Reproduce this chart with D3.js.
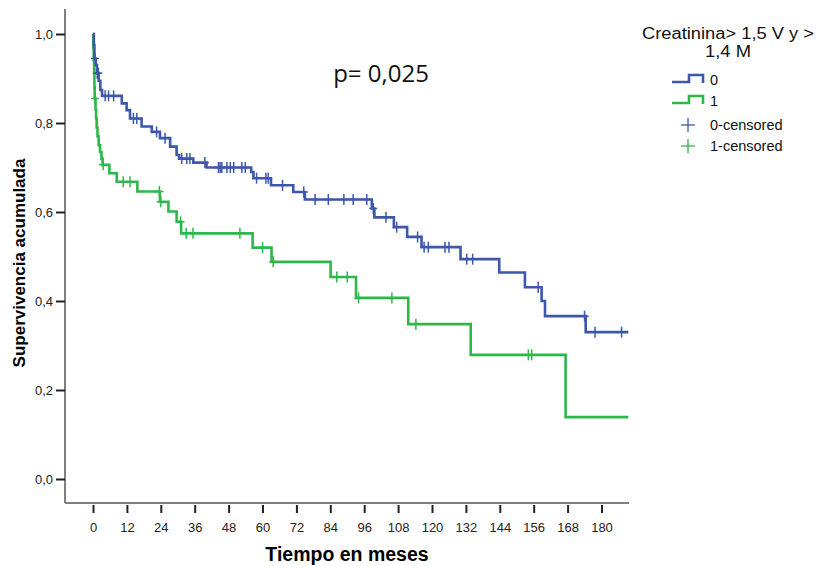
<!DOCTYPE html>
<html>
<head>
<meta charset="utf-8">
<script src="https://cdn.jsdelivr.net/npm/d3@7"></script>
<style>
  html, body { margin: 0; padding: 0; background: #fff; }
  svg { display: block; font-family: "Liberation Sans", Arial, sans-serif; }
</style>
</head>
<body>
<svg id="chart" width="819" height="566"></svg>
<script>
// Kaplan-Meier step data: event times (months) and survival after each event
const times0 = [0, 0.3, 0.5, 1.0, 1.4, 2.0, 2.6, 3.2, 10.2, 11.9, 13.1, 17.2, 20.8, 23.7, 27.3, 29.6, 30.5, 35.5, 40.2,
                56.0, 56.8, 63.0, 70.9, 75.0, 98.7, 99.6, 106.5, 111.2, 116.3, 130.1, 143.8, 152.9, 158.8, 160.0, 174.4];
const surv0  = [1.0, 0.975, 0.945, 0.93, 0.912, 0.895, 0.874, 0.861, 0.844, 0.829, 0.81, 0.792, 0.78, 0.766, 0.747, 0.728, 0.72, 0.711, 0.70,
                0.69, 0.676, 0.66, 0.645, 0.628, 0.608, 0.588, 0.566, 0.544, 0.521, 0.494, 0.464, 0.431, 0.40, 0.366, 0.33];
const censored0 = [0.7, 1.5, 1.9, 4.3, 5.5, 7.3, 14.3, 15.5, 22.5, 25.5, 31.4, 33.2, 34.3, 39.6, 44.4, 45.0, 45.6, 47.4, 48.6,
                   49.8, 52.7, 53.9, 57.9, 61.2, 62.0, 67.1, 74.6, 78.6, 83.3, 88.8, 92.1, 96.9, 99.2, 103.7, 107.5, 114.9,
                   117.2, 118.7, 124.6, 126.0, 132.3, 134.4, 157.6, 174.0, 177.7, 187.1];
const end0 = 189.5;

const times1 = [0, 0.1, 0.25, 0.4, 0.5, 0.6, 0.9, 1.1, 1.3, 1.6, 2.0, 2.5, 3.0, 3.4, 5.8, 8.4, 15.7, 23.7, 26.7, 29.6, 31.2,
                56.5, 63.2, 84.1, 93.1, 111.6, 133.7, 167.3];
const surv1  = [1.0, 0.97, 0.94, 0.91, 0.88, 0.855, 0.83, 0.81, 0.79, 0.77, 0.75, 0.735, 0.72, 0.706, 0.687, 0.668, 0.646, 0.623, 0.601, 0.578, 0.552,
                0.52, 0.488, 0.454, 0.407, 0.348, 0.279, 0.139];
const censored1 = [0.7, 3.6, 10.7, 13.1, 23.5, 24.0, 31.0, 33.0, 35.4, 52.0, 60.0, 63.8, 86.3, 90.0, 94.0, 105.8, 114.3, 154.1, 155.3];
const end1 = 189.5;

const xTicks = [0, 12, 24, 36, 48, 60, 72, 84, 96, 108, 120, 132, 144, 156, 168, 180];
const yTicks = [0, 0.2, 0.4, 0.6, 0.8, 1.0];
const yTickLabels = ["0,0", "0,2", "0,4", "0,6", "0,8", "1,0"];

const groupLabels = ["0", "1", "0-censored", "1-censored"];
const legendTitle = ["Creatinina> 1,5 V y >", "1,4 M"];
const pValueText = "p= 0,025";
const xTitle = "Tiempo en meses";
const yTitle = "Supervivencia acumulada";

const blue = "#3d57ab";
const green = "#2db84a";

const svg = d3.select("#chart");

const x = d3.scaleLinear().domain([0, 180]).range([93, 601.5]);
const y = d3.scaleLinear().domain([0, 1]).range([479, 34]);

// Frame lines (axes offset from the plotting area as in SPSS output)
const axisColor = "#555";
svg.append("line").attr("x1", 65).attr("x2", 65).attr("y1", 9).attr("y2", 503)
  .attr("stroke", axisColor).attr("stroke-width", 1.5);
svg.append("line").attr("x1", 65).attr("x2", 629).attr("y1", 503).attr("y2", 503)
  .attr("stroke", axisColor).attr("stroke-width", 1.5);

// X axis ticks and labels
const xAxis = d3.axisBottom(x).tickValues(xTicks).tickSize(8).tickPadding(10).tickFormat(d3.format("d"));
const gx = svg.append("g").attr("transform", "translate(0,505)").call(xAxis);
gx.select(".domain").remove();
gx.selectAll(".tick line").attr("stroke", "#222").attr("stroke-width", 2);
gx.selectAll(".tick text").attr("fill", "#222").style("font-size", "13px").style("font-family", "Liberation Sans, Arial, sans-serif");

// Y axis ticks and labels
const yAxis = d3.axisLeft(y).tickValues(yTicks).tickSize(9).tickPadding(3)
  .tickFormat((d, i) => yTickLabels[i]);
const gy = svg.append("g").attr("transform", "translate(65,0)").call(yAxis);
gy.select(".domain").remove();
gy.selectAll(".tick line").attr("stroke", "#222").attr("stroke-width", 2);
gy.selectAll(".tick text").attr("fill", "#222").style("font-size", "13px").style("font-family", "Liberation Sans, Arial, sans-serif");

// Axis titles
svg.append("text").attr("x", 347).attr("y", 561).attr("text-anchor", "middle")
  .style("font-weight", "bold").style("font-size", "19.5px").text(xTitle);
svg.append("text").attr("transform", "translate(25,263) rotate(-90)").attr("text-anchor", "middle")
  .style("font-weight", "bold").style("font-size", "17px").text(yTitle);

// p-value annotation
svg.append("text").attr("x", 381).attr("y", 82).attr("text-anchor", "middle")
  .style("font-size", "24px").style("font-family", "'Open Sans', 'Liberation Sans', sans-serif").attr("fill", "#111").text(pValueText);

// Step-function helpers
function survivalAt(times, surv, t) {
  let s = surv[0];
  for (let i = 0; i < times.length; i++) { if (times[i] <= t) s = surv[i]; }
  return s;
}
function stepPoints(times, surv, end) {
  const pts = times.map((t, i) => [t, surv[i]]);
  pts.push([end, surv[surv.length - 1]]);
  return pts;
}
const stepLine = d3.line().x(d => x(d[0])).y(d => y(d[1])).curve(d3.curveStepAfter);

function drawGroup(times, surv, censored, end, color) {
  svg.append("path").datum(stepPoints(times, surv, end))
    .attr("fill", "none").attr("stroke", color).attr("stroke-width", 2.6)
    .attr("stroke-linejoin", "miter").attr("d", stepLine);
  const g = svg.append("g").attr("stroke", color).attr("stroke-width", 1.5);
  censored.forEach(t => {
    const cx = x(t), cy = y(survivalAt(times, surv, t));
    g.append("line").attr("x1", cx).attr("x2", cx).attr("y1", cy - 5.5).attr("y2", cy + 5.5);
    g.append("line").attr("x1", cx - 4).attr("x2", cx + 4).attr("y1", cy).attr("y2", cy);
  });
}
drawGroup(times1, surv1, censored1, end1, green);
drawGroup(times0, surv0, censored0, end0, blue);

// Legend: two-line title, slightly widened to the legend box
const lg = svg.append("g");
const titleWidths = [172, 46];
lg.selectAll("text.title").data(legendTitle).join("text").attr("class", "title")
  .attr("x", (d, i) => 728 - titleWidths[i] / 2).attr("y", (d, i) => 39 + i * 18)
  .attr("textLength", (d, i) => titleWidths[i]).attr("lengthAdjust", "spacingAndGlyphs")
  .style("font-size", "16px").attr("fill", "#111").text(d => d);

const legendRows = [
  { label: groupLabels[0], color: blue, kind: "step", cy: 80 },
  { label: groupLabels[1], color: green, kind: "step", cy: 101 },
  { label: groupLabels[2], color: blue, kind: "plus", cy: 125 },
  { label: groupLabels[3], color: green, kind: "plus", cy: 146 }
];
legendRows.forEach(r => {
  if (r.kind === "step") {
    lg.append("path")
      .attr("d", `M672,${r.cy + 2} H689 V${r.cy - 5} H703 V${r.cy + 3}`)
      .attr("fill", "none").attr("stroke", r.color).attr("stroke-width", 2.6);
  } else {
    lg.append("line").attr("x1", 688).attr("x2", 688).attr("y1", r.cy - 7).attr("y2", r.cy + 7)
      .attr("stroke", r.color).attr("stroke-width", 1.3);
    lg.append("line").attr("x1", 681).attr("x2", 695).attr("y1", r.cy).attr("y2", r.cy)
      .attr("stroke", r.color).attr("stroke-width", 1.3);
  }
  lg.append("text").attr("x", 710).attr("y", r.cy + 5)
    .style("font-size", "14.5px").attr("fill", "#111").text(r.label);
});
</script>
</body>
</html>
